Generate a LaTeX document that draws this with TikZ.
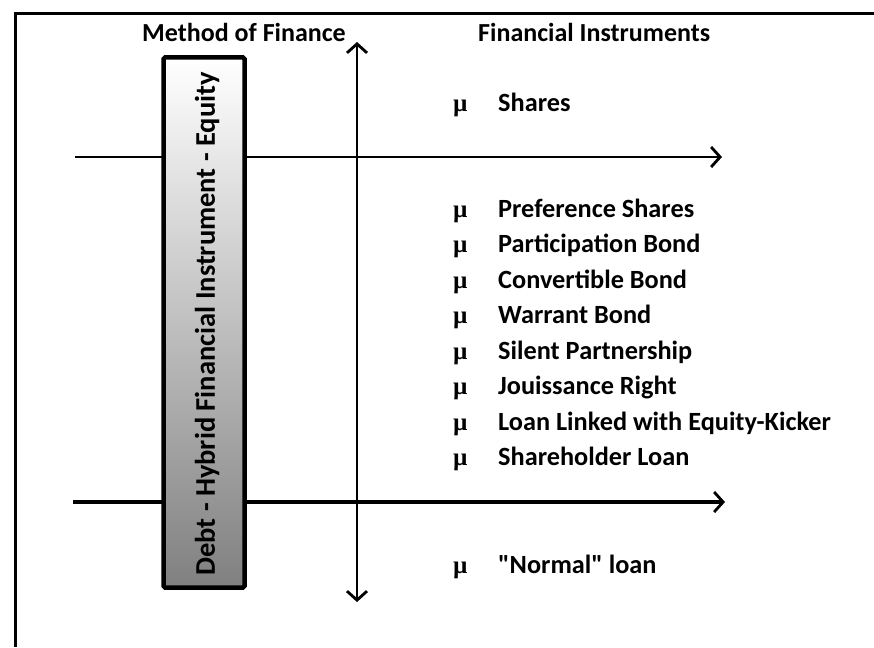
\documentclass[tikz,border=0pt]{standalone}
\usepackage{fontspec}
\setmainfont{Carlito}[Ligatures=TeXOff]
\newfontfamily\bulletfont{Liberation Serif}
\usepackage{xcolor}
\usetikzlibrary{arrows.meta, positioning}
\definecolor{boxtop}{HTML}{FFFFFF}
\definecolor{boxmid}{HTML}{D0D0D0}
\definecolor{boxbot}{HTML}{808080}
\tikzset{
  frameline/.style={line width=3pt, draw=black},
  arr/.style={-{Straight Barb[length=9pt, width=20pt, line width=2.8pt]}, line width=2.2pt},
  arrthick/.style={arr, line width=4.5pt},
  dblarr/.style={{Straight Barb[length=9pt, width=20pt, line width=2.8pt]}-{Straight Barb[length=9pt, width=20pt, line width=2.8pt]}, line width=2.2pt},
  fbox/.style={draw, line width=4.5pt, rounded corners=1.5pt, top color=boxtop, middle color=boxmid, bottom color=boxbot},
  head/.style={font=\bfseries\fontsize{26}{30}\selectfont, inner sep=0pt, anchor=base west},
  item/.style={font=\bfseries\fontsize{26.3}{30}\selectfont, inner sep=0pt, anchor=base west},
  bul/.style={font=\bulletfont\bfseries\fontsize{25}{30}\selectfont, inner sep=0pt, anchor=base west},
  boxlab/.style={font=\bfseries\fontsize{28.5}{32}\selectfont, rotate=90, inner sep=0pt},
}

\begin{document}
\begin{tikzpicture}[x=1pt, y=-1pt]
  \useasboundingbox (0,0) rectangle (874,647);
  % frame (top and left edge only)
  \coordinate (fr-tr) at (874,13.5);
  \coordinate (fr-tl) at (15,13.5);
  \coordinate (fr-bl) at (15,647);
  \draw[frameline] (fr-tr) -- (fr-tl) -- (fr-bl);
  % limits equity / hybrid / debt
  \coordinate (eq-from) at (75,157);
  \coordinate (eq-to) at (722,157);
  \coordinate (dt-from) at (73,502);
  \coordinate (dt-to) at (725,502);
  \draw[arr] (eq-from) -- (eq-to);
  \draw[arrthick] (dt-from) -- (dt-to);
  % vertical axis
  \coordinate (ax-top) at (357,42);
  \coordinate (ax-bot) at (357,602);
  \draw[dblarr] (ax-bot) -- (ax-top);
  % method of finance bar
  \node[fbox, minimum width=81pt, minimum height=530pt] (spectrum) at (204,322.5) {};
  \node[boxlab] (spectrum-lab) at (207,324) {Debt - Hybrid Financial Instrument - Equity};
  % headings
  \node[head, anchor=base] (method) at (244,42) {Method of Finance};
  \node[head] (instr) at (478,42) {Financial Instruments};
  % instruments
  \foreach \txt/\yy [count=\i] in {Shares/112, Preference Shares/217, Participation Bond/252.5,
      Convertible Bond/288, Warrant Bond/323.5, Silent Partnership/359, Jouissance Right/394.5,
      Loan Linked with Equity-Kicker/430, Shareholder Loan/465.5, "Normal" loan/573} {
    \node[bul] (b\i) at (453,\yy) {µ};
    \node[item] (it\i) at (498,\yy) {\txt};
  }
\end{tikzpicture}
\end{document}
